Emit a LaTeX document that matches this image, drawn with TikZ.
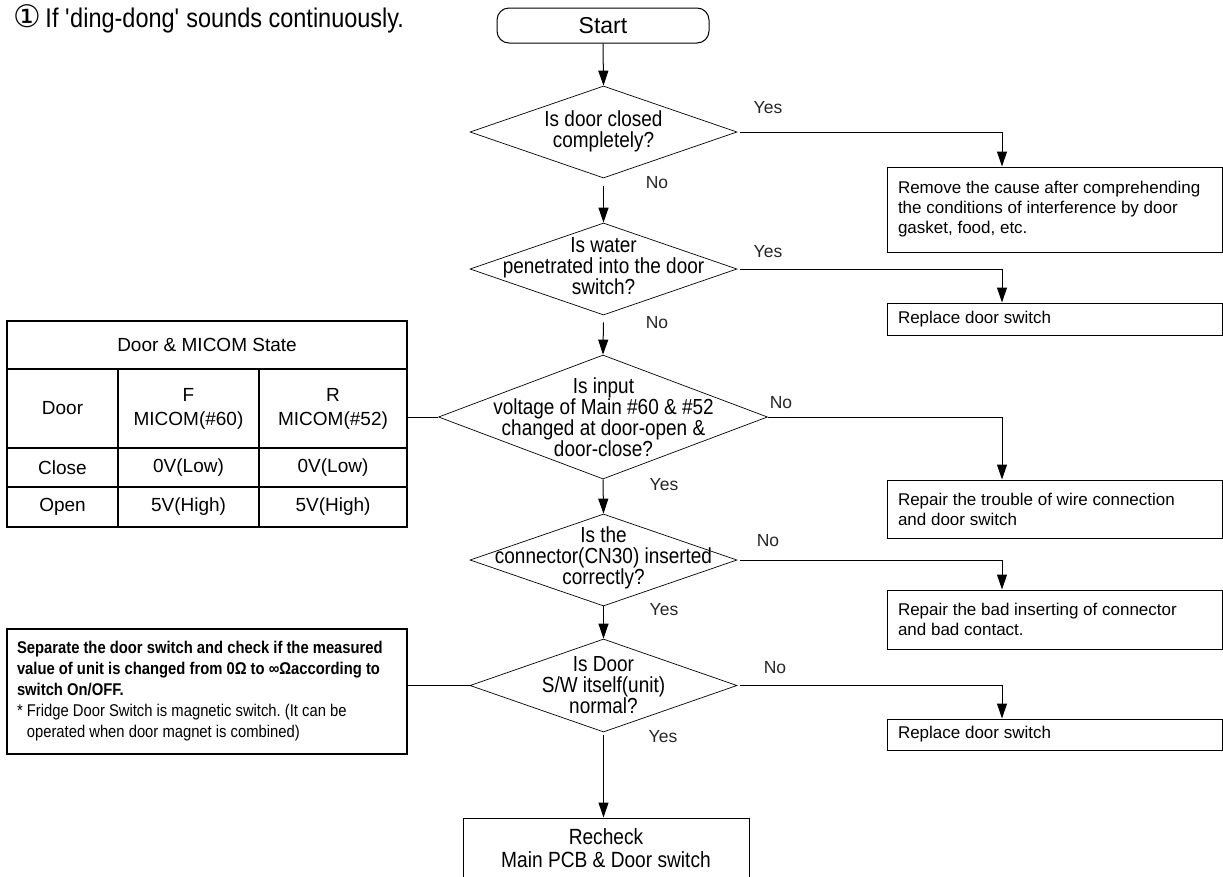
\documentclass[tikz,border=0pt]{standalone}
\usepackage{fontspec}
\setmainfont{Liberation Sans}
\newfontfamily\condf[FakeStretch=0.87]{Liberation Sans}
\newfontfamily\symf{DejaVu Sans}
\usetikzlibrary{arrows.meta,shapes.geometric}
\frenchspacing
\begin{document}
\begin{tikzpicture}[x=1pt,y=-1pt,
  arr/.style={line width=1pt,-{Triangle[length=15pt,width=10pt]}},
  conn/.style={line width=1pt},
  dia/.style={draw, diamond, line width=0.7pt, inner sep=0pt},
  dtext/.style={font=\condf\fontsize{21.8}{21}\selectfont, align=center, inner sep=0pt},
  rbox/.style={draw, line width=1pt, minimum width=335pt, inner xsep=11pt, inner ysep=0pt,
     text width=313pt, align=flush left, font=\fontsize{17}{20}\selectfont},
  yn/.style={font=\fontsize{17.5}{18}\selectfont, text=black!85, anchor=base, inner sep=0pt},
  cell/.style={font=\fontsize{19}{24}\selectfont, align=center, inner sep=0pt},
  thick2/.style={draw, line width=2.2pt, inner sep=0pt}]
\clip (0,0) rectangle (1223,876);
\fill[white] (0,0) rectangle (1223,876);

% title
\node[anchor=base west, inner sep=0pt, font=\condf\fontsize{27}{28}\selectfont] (title) at (13,27)
  {{\symf\fontsize{31}{32}\selectfont ①}\,If \textquotesingle ding-dong\textquotesingle\ sounds continuously.};

% start
\node[draw, line width=1pt, rounded corners=12pt, minimum width=212pt, minimum height=35pt,
  font=\fontsize{23}{24}\selectfont] (start) at (603,25.5) {Start};

% diamonds
\node[dia, minimum width=267pt, minimum height=92pt] (d1) at (603.5,132) {};
\node[dtext] at (603.5,131) {Is door closed\\completely?};
\node[dia, minimum width=267pt, minimum height=92pt] (d2) at (603.5,269) {};
\node[dtext] at (603.5,266) {Is water\\penetrated into the door\\switch?};
\node[dia, minimum width=329pt, minimum height=124pt] (d3) at (603,417) {};
\node[dtext] at (603.5,417) {Is input\\voltage of Main \#60 \& \#52\\changed at door-open \&\\door-close?};
\node[dia, minimum width=267pt, minimum height=92pt] (d4) at (603.5,560) {};
\node[dtext] at (603.5,558) {Is the\\connector(CN30) inserted\\correctly?};
\node[dia, minimum width=267pt, minimum height=93pt] (d5) at (603.5,685.5) {};
\node[dtext] at (603.5,685) {Is Door\\S/W itself(unit)\\normal?};

% right boxes
\node[rbox, minimum height=85pt] (b1) at (1054.5,209.5)
  {Remove the cause after comprehending\\the conditions of interference by door\\gasket, food, etc.};
\node[rbox, minimum height=32pt] (b2) at (1054.5,319) {Replace door switch};
\node[rbox, minimum height=58pt] (b3) at (1054.5,509) {Repair the trouble of wire connection\\and door switch};
\node[rbox, minimum height=59pt] (b4) at (1054.5,619.5) {Repair the bad inserting of connector\\and bad contact.};
\node[rbox, minimum height=31pt] (b5) at (1054.5,734.5) {Replace door switch};
\node[draw, line width=1pt, minimum width=286pt, minimum height=60pt, align=center,
  font=\condf\fontsize{22}{23}\selectfont] (b6) at (606,848) {Recheck\\Main PCB \& Door switch};

% table
\node[thick2, minimum width=400pt, minimum height=206pt] (tbl) at (207,424) {};
\draw[line width=1.1pt] (7,369) -- (407,369) (7,448) -- (407,448) (7,487) -- (407,487)
  (118,369) -- (118,527) (259,369) -- (259,527);
\node[cell] (h) at (207,345) {Door \& MICOM State};
\node[cell] (c11) at (62.5,408.5) {Door};
\node[cell] (c12) at (188.5,408.5) {F\\MICOM(\#60)};
\node[cell] (c13) at (333,408.5) {R\\MICOM(\#52)};
\node[cell] (c21) at (62.5,467.5) {Close};
\node[cell] (c22) at (188.5,467.5) {0V(Low)};
\node[cell] (c23) at (333,467.5) {0V(Low)};
\node[cell] (c31) at (62.5,507) {Open};
\node[cell] (c32) at (188.5,507) {5V(High)};
\node[cell] (c33) at (333,507) {5V(High)};

% note
\node[thick2, minimum width=400pt, minimum height=125pt, inner xsep=10pt, text width=380pt,
  align=flush left, font=\condf\fontsize{17}{21}\selectfont] (note) at (207,691.5)
  {\textbf{Separate the door switch and check if the measured}\\
   \textbf{value of unit is changed from 0Ω to ∞Ωaccording to}\\
   \textbf{switch On/OFF.}\\
   \relax * Fridge Door Switch is magnetic switch. (It can be\\
   \relax\phantom{* }operated when door magnet is combined)};

% connectors
\draw[arr] (start.south) -- (d1.north);
\draw[arr, shorten <=8pt] (d1.south) -- (d2.north);
\draw[arr, shorten <=7pt] (d2.south) -- (d3.north);
\draw[arr] (d3.south) -- (d4.north);
\draw[arr] (d4.south) -- (d5.north);
\draw[arr, shorten <=3pt] (d5.south) -- (b6.north -| d5.south);

\draw[arr, shorten <=3pt] (d1.east) -| ([xshift=-52.5pt]b1.north);
\draw[arr, shorten <=3pt] (d2.east) -| ([xshift=-52.5pt]b2.north);
\draw[arr] (d3.east) -| ([xshift=-52.5pt]b3.north);
\draw[arr, shorten <=3pt] (d4.east) -| ([xshift=-52.5pt]b4.north);
\draw[arr, shorten <=3pt] (d5.east) -| ([xshift=-52.5pt]b5.north);

\draw[conn] (d3.west) -- (d3.west -| tbl.east);
\draw[conn] (d5.west) -- (d5.west -| note.east);

% yes/no labels
\node[yn] at (768,113) {Yes};
\node[yn] at (657,188) {No};
\node[yn] at (768,257) {Yes};
\node[yn] at (657,328) {No};
\node[yn] at (781,408) {No};
\node[yn] at (664,490) {Yes};
\node[yn] at (768,546) {No};
\node[yn] at (664,615) {Yes};
\node[yn] at (775,673) {No};
\node[yn] at (663,742) {Yes};
\end{tikzpicture}
\end{document}
